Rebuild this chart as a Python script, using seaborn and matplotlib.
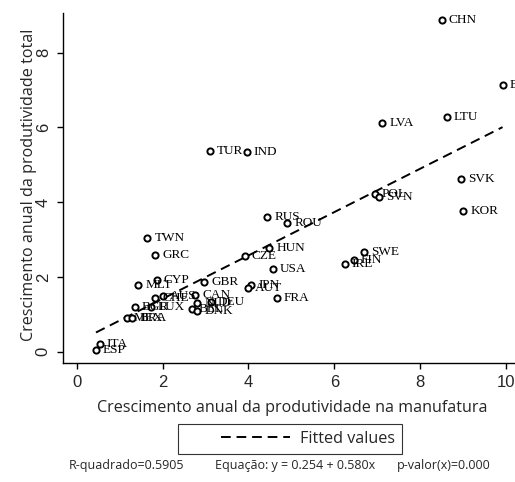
import matplotlib
matplotlib.use("Agg")
import matplotlib.pyplot as plt
import seaborn as sns
import numpy as np
import pandas as pd
from matplotlib.lines import Line2D
from matplotlib.legend_handler import HandlerLine2D

# ---- data ----
countries = ["CHN", "EST", "LVA", "LTU", "SVK", "KOR", "POL", "SVN", "TUR", "IND",
             "RUS", "ROU", "HUN", "CZE", "USA", "FRA", "SWE", "IRE", "FIN", "JPN",
             "AUT", "GBR", "CYP", "MLT", "CAN", "AUS", "CHE", "NLD", "DEU", "BEL",
             "DNK", "LUX", "BGR", "MEX", "BRA", "ITA", "ESP", "TWN", "GRC"]
manuf = [8.51, 9.92, 7.12, 8.62, 8.96, 9.01, 6.95, 7.05, 3.11, 3.96,
         4.44, 4.91, 4.49, 3.92, 4.57, 4.66, 6.70, 6.24, 6.45, 4.06,
         3.99, 2.97, 1.86, 1.44, 2.76, 2.02, 1.83, 2.81, 3.13, 2.69,
         2.81, 1.73, 1.36, 1.17, 1.30, 0.54, 0.45, 1.65, 1.83]
total = [8.87, 7.13, 6.11, 6.27, 4.62, 3.77, 4.23, 4.13, 5.37, 5.35,
         3.61, 3.45, 2.78, 2.57, 2.21, 1.44, 2.67, 2.34, 2.46, 1.78,
         1.70, 1.86, 1.91, 1.78, 1.51, 1.50, 1.43, 1.30, 1.32, 1.15,
         1.09, 1.20, 1.20, 0.89, 0.91, 0.22, 0.05, 3.03, 2.60]
intercept = 0.254
slope = 0.580
xticks = [0, 2, 4, 6, 8, 10]
yticks = [0, 2, 4, 6, 8]
xlabel = "Crescimento anual da produtividade na manufatura"
ylabel = "Crescimento anual da produtividade total"
legend_label = "Fitted values"
stats_texts = ["R-quadrado=0.5905", "Equação: y = 0.254 + 0.580x", "p-valor(x)=0.000"]

df = pd.DataFrame({"country": countries, "manuf": manuf, "total": total})

sns.set_style("ticks")
plt.rcParams["font.family"] = ["Open Sans", "DejaVu Sans"]

fig = plt.figure(figsize=(5.15, 4.82), dpi=100)
ax = fig.add_axes([0.123, 0.247, 0.877, 0.726])

sns.scatterplot(data=df, x="manuf", y="total", ax=ax, marker="o", s=20,
                facecolor="white", edgecolor="black", linewidth=1.4, zorder=3)

for _, r in df.iterrows():
    ax.annotate(r["country"], (r["manuf"], r["total"]), xytext=(5, 0),
                textcoords="offset points", va="center", ha="left",
                fontsize=9.5, family="Liberation Serif", color="black",
                annotation_clip=False, zorder=4)

xs = np.array([df["manuf"].min(), df["manuf"].max()])
ax.plot(xs, intercept + slope * xs, color="black", lw=1.4,
        ls=(0, (5, 3)), zorder=2)

ax.set_xlim(-0.31, 10.21)
ax.set_ylim(-0.30, 9.06)
ax.set_xticks(xticks)
ax.set_yticks(yticks)
ax.set_xticklabels([str(t) for t in xticks], family="Liberation Sans", fontsize=12)
ax.set_yticklabels([str(t) for t in yticks], family="Liberation Sans", fontsize=12,
                   rotation=90, va="center")
ax.tick_params(axis="both", direction="out", length=4, width=1, color="black", pad=5)
for s in ["top", "right"]:
    ax.spines[s].set_visible(False)
for s in ["left", "bottom"]:
    ax.spines[s].set_color("black")
    ax.spines[s].set_linewidth(1)

ax.set_xlabel(xlabel, fontsize=11.6)
ax.set_ylabel(ylabel, fontsize=11.6)
ax.xaxis.set_label_coords(0.507, -0.129)
ax.xaxis.label.set_va("center")
ax.yaxis.set_label_coords(-0.076, 0.51)
ax.yaxis.label.set_va("center")


class LeadingGapHandler(HandlerLine2D):
    def get_xdata(self, legend, xdescent, ydescent, width, height, fontsize):
        x0 = -xdescent + 0.34 * width
        x1 = -xdescent + width
        return np.array([x0, x1]), np.array([x0, x1])


handle = Line2D([0], [0], color="black", lw=1.4, ls=(0, (5, 3)))
leg = fig.legend([handle], [legend_label], loc="center",
                 bbox_to_anchor=(0.563, 1 - 439 / 482), frameon=True,
                 fancybox=False, edgecolor="black", fontsize=11.6,
                 handlelength=6.5, borderpad=0.45, handletextpad=0.62,
                 borderaxespad=0,
                 handler_map={Line2D: LeadingGapHandler()})
leg.get_frame().set_linewidth(0.8)

xpos = [126, 295, 444]
for t, xp in zip(stats_texts, xpos):
    fig.text(xp / 515, 1 - 466 / 482, t, ha="center", va="center", fontsize=9)

fig.savefig("out.png", dpi=100)
